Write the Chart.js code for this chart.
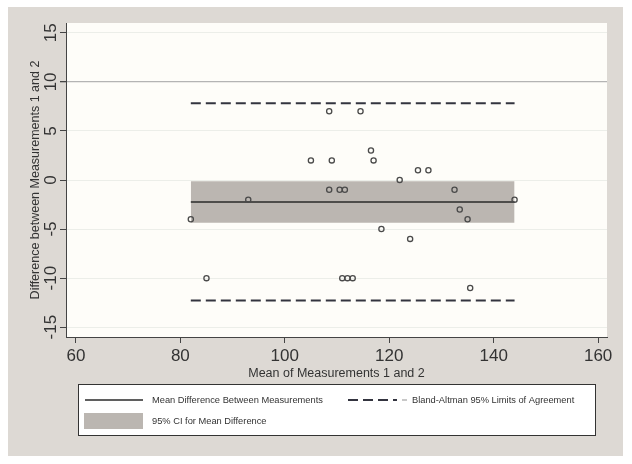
<!DOCTYPE html>
<html>
<head>
<meta charset="utf-8">
<script src="https://cdn.jsdelivr.net/npm/chart.js@4.4.0/dist/chart.umd.min.js"></script>
<style>
  html, body { margin: 0; padding: 0; background: #fff; }
</style>
</head>
<body>
<canvas id="baChart" width="632" height="464"></canvas>
<script>
// ---------- Data ----------
const xTicks = [60, 80, 100, 120, 140, 160];
const yTicks = [-15, -10, -5, 0, 5, 10, 15];

// mean of the two measurements (x) and their difference (y)
const meanX = [82, 85, 93, 105, 108.5, 109, 108.5, 110.5, 111, 111.5, 112, 113, 114.5,
               116.5, 117, 118.5, 122, 124, 125.5, 127.5, 132.5, 133.5, 135, 135.5, 144];
const diffY = [-4, -10, -2, 2, 7, 2, -1, -1, -10, -1, -10, -10, 7,
               3, 2, -5, 0, -6, 1, 1, -1, -3, -4, -11, -2];

const lineX = [82, 144];          // span of the reference lines
const meanDiff = -2.24;
const ciLow = -4.36;
const ciHigh = -0.12;
const loaUpper = 7.81;
const loaLower = -12.29;

const legendLabels = [
  'Mean Difference Between Measurements',
  'Bland-Altman 95% Limits of Agreement',
  '95% CI for Mean Difference'
];

const FONT = '"Liberation Sans", Arial, sans-serif';
const BAND = '#bbb6b1';
const DASH = '#33343f';

const hLine = y => lineX.map(x => ({x: x, y: y}));

// ---------- Plugins ----------
const panelPlugin = {
  id: 'panel',
  beforeDraw(chart) {
    const {ctx, chartArea: a} = chart;
    ctx.save();
    ctx.fillStyle = '#ffffff';
    ctx.fillRect(0, 0, chart.width, chart.height);
    ctx.fillStyle = '#ddd9d4';
    ctx.fillRect(8, 7, 615, 449);
    ctx.fillStyle = '#fefdf9';
    ctx.fillRect(a.left, a.top, a.right - a.left, a.bottom - a.top);
    ctx.restore();
  }
};

// Stata-style rotated y tick labels
const yLabelPlugin = {
  id: 'yLabels',
  afterDraw(chart) {
    const {ctx} = chart;
    const s = chart.scales.y;
    ctx.save();
    ctx.fillStyle = '#333';
    ctx.font = '17px ' + FONT;
    ctx.textAlign = 'center';
    ctx.textBaseline = 'middle';
    s.ticks.forEach(t => {
      ctx.save();
      ctx.translate(51, s.getPixelForValue(t.value));
      ctx.rotate(-Math.PI / 2);
      ctx.fillText(String(t.value), 0, 0);
      ctx.restore();
    });
    ctx.restore();
  }
};

const legendPlugin = {
  id: 'boxLegend',
  afterDraw(chart) {
    const {ctx} = chart;
    ctx.save();
    ctx.fillStyle = '#ffffff';
    ctx.fillRect(78, 384, 517, 51);
    ctx.strokeStyle = '#333';
    ctx.lineWidth = 1;
    ctx.strokeRect(78.5, 384.5, 517, 51);

    // solid line sample
    ctx.strokeStyle = '#2a2a2a';
    ctx.lineWidth = 1.6;
    ctx.beginPath(); ctx.moveTo(85, 400); ctx.lineTo(143, 400); ctx.stroke();

    // dashed sample
    ctx.strokeStyle = DASH;
    ctx.lineWidth = 2;
    ctx.setLineDash([10, 5]);
    ctx.beginPath(); ctx.moveTo(348, 400); ctx.lineTo(397, 400); ctx.stroke();
    ctx.strokeStyle = '#c8c8c8';
    ctx.setLineDash([]);
    ctx.beginPath(); ctx.moveTo(402, 400); ctx.lineTo(407, 400); ctx.stroke();

    // band sample
    ctx.fillStyle = BAND;
    ctx.fillRect(84, 413, 59, 16);

    ctx.fillStyle = '#333';
    ctx.font = '9.3px ' + FONT;
    ctx.textBaseline = 'middle';
    ctx.fillText(legendLabels[0], 152, 400);
    ctx.fillText(legendLabels[1], 412, 400);
    ctx.fillText(legendLabels[2], 152, 421.5);
    ctx.restore();
  }
};

// ---------- Chart ----------
const ctx = document.getElementById('baChart').getContext('2d');

new Chart(ctx, {
  type: 'scatter',
  data: {
    datasets: [
      {
        label: 'CI high', data: hLine(ciHigh), showLine: true, pointRadius: 0,
        borderWidth: 0, backgroundColor: BAND, fill: '+1', order: 3
      },
      {
        label: 'CI low', data: hLine(ciLow), showLine: true, pointRadius: 0,
        borderWidth: 0, fill: false, order: 3
      },
      {
        label: legendLabels[0], data: hLine(meanDiff), showLine: true, pointRadius: 0,
        borderColor: '#2a2a2a', borderWidth: 1.6, order: 2
      },
      {
        label: 'LoA upper', data: hLine(loaUpper), showLine: true, pointRadius: 0,
        borderColor: DASH, borderWidth: 2, borderDash: [10, 5], order: 2
      },
      {
        label: 'LoA lower', data: hLine(loaLower), showLine: true, pointRadius: 0,
        borderColor: DASH, borderWidth: 2, borderDash: [10, 5], order: 2
      },
      {
        label: 'Observations',
        data: meanX.map((x, i) => ({x: x, y: diffY[i]})),
        pointRadius: 2.6, pointBorderWidth: 1.3,
        pointBorderColor: '#4a4a4a', pointBackgroundColor: 'rgba(0,0,0,0)',
        order: 0
      }
    ]
  },
  options: {
    responsive: false,
    animation: false,
    layout: {padding: {left: 0, top: 23, right: 25, bottom: 83}},
    plugins: {legend: {display: false}, tooltip: {enabled: false}},
    scales: {
      x: {
        type: 'linear', min: 58.1, max: 161.7,
        afterBuildTicks: s => { s.ticks = xTicks.map(v => ({value: v})); },
        afterFit: s => { s.height = 44; },
        grid: {drawOnChartArea: false, tickLength: 6, tickColor: '#444'},
        border: {color: '#444', width: 1},
        ticks: {font: {size: 17, family: FONT}, color: '#333', padding: 3, maxRotation: 0, autoSkip: false},
        title: {display: true, text: 'Mean of Measurements 1 and 2',
                font: {size: 12.5, family: FONT}, color: '#333', padding: {top: 0, bottom: 0}}
      },
      y: {
        type: 'linear', min: -16, max: 16,
        afterBuildTicks: s => { s.ticks = yTicks.map(v => ({value: v})); },
        afterFit: s => { s.width = 66; },
        grid: {
          color: c => (c.tick && c.tick.value === 10) ? '#b4b4b4' : '#eceee9',
          lineWidth: c => (c.tick && c.tick.value === 10) ? 1.3 : 1,
          tickLength: 6, tickColor: '#444'
        },
        border: {color: '#444', width: 1},
        ticks: {display: false},
        title: {display: true, text: 'Difference between Measurements 1 and 2',
                font: {size: 12.5, family: FONT}, color: '#333', padding: {top: 28, bottom: 0}}
      }
    }
  },
  plugins: [panelPlugin, yLabelPlugin, legendPlugin]
});
</script>
</body>
</html>
